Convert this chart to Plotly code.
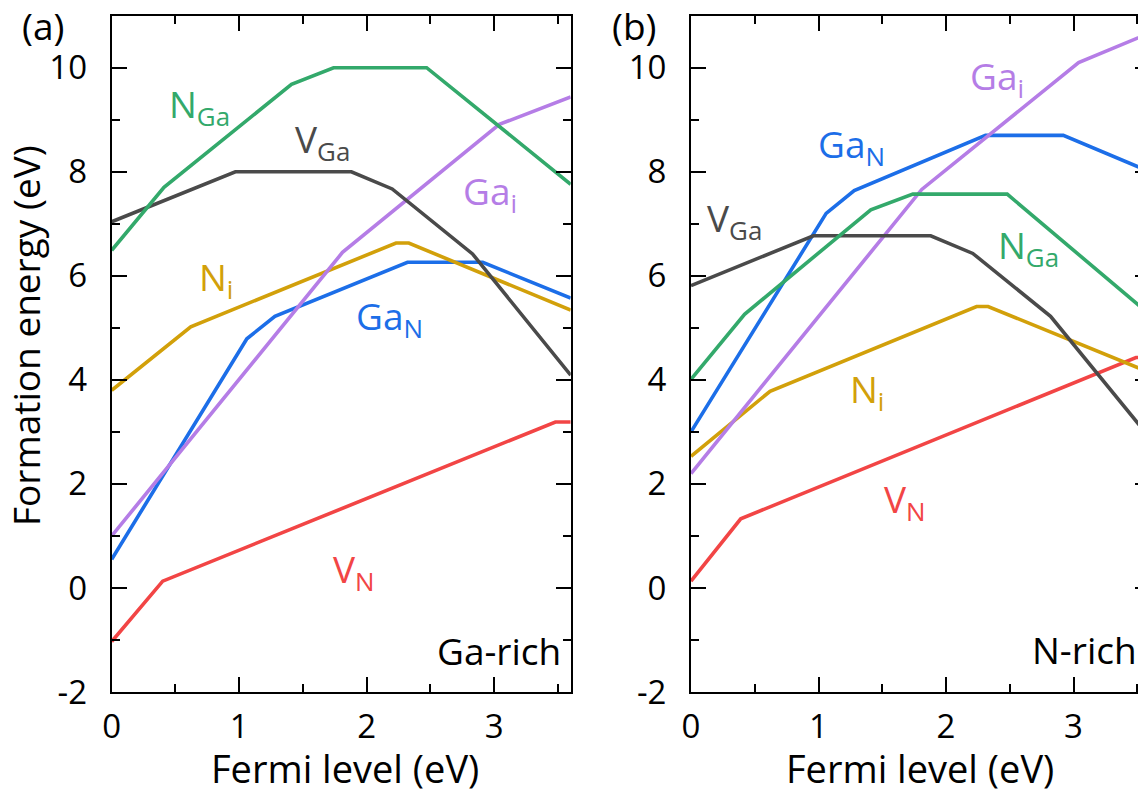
import plotly.graph_objects as go

# ---------------- data ----------------
# Panel (a): Ga-rich
VN_a_x = [0, 0.40, 3.48, 3.6]
VN_a_y = [-1.03, 0.13, 3.19, 3.19]
GaN_a_x = [0, 1.06, 1.28, 2.32, 2.91, 3.6]
GaN_a_y = [0.55, 4.79, 5.22, 6.26, 6.26, 5.57]
Gai_a_x = [0, 1.81, 3.04, 3.6]
Gai_a_y = [1.0, 6.45, 8.91, 9.44]
Ni_a_x = [0, 0.62, 2.23, 2.33, 3.6]
Ni_a_y = [3.80, 5.02, 6.63, 6.63, 5.34]
VGa_a_x = [0, 0.97, 1.88, 2.20, 2.83, 3.6]
VGa_a_y = [7.04, 8.0, 8.0, 7.67, 6.42, 4.09]
NGa_a_x = [0, 0.41, 1.41, 1.74, 2.47, 3.6]
NGa_a_y = [6.49, 7.70, 9.68, 10.0, 10.0, 7.76]

# Panel (b): N-rich
VN_b_x = [0, 0.39, 3.49, 3.6]
VN_b_y = [0.13, 1.33, 4.43, 4.43]
GaN_b_x = [0, 1.06, 1.28, 2.31, 2.92, 3.6]
GaN_b_y = [3.0, 7.2, 7.64, 8.70, 8.70, 8.0]
Gai_b_x = [0, 1.81, 3.04, 3.6]
Gai_b_y = [2.2, 7.66, 10.1, 10.67]
Ni_b_x = [0, 0.62, 2.24, 2.33, 3.6]
Ni_b_y = [2.53, 3.78, 5.41, 5.41, 4.14]
VGa_b_x = [0, 0.96, 1.88, 2.21, 2.82, 3.6]
VGa_b_y = [5.81, 6.77, 6.77, 6.43, 5.22, 2.88]
NGa_b_x = [0, 0.42, 1.41, 1.74, 2.48, 3.6]
NGa_b_y = [4.01, 5.26, 7.27, 7.57, 7.57, 5.25]

x_ticks = [0, 1, 2, 3]
y_ticks = [-2, 0, 2, 4, 6, 8, 10]
y_tick_labels = ["-2", "0", "2", "4", "6", "8", "10"]

# labels: (text, colour, x, y) in data units
labels_a = [
    ("N<sub>Ga</sub>", "#33a96b", 0.69, 9.27),
    ("V<sub>Ga</sub>", "#4a4a4a", 1.65, 8.60),
    ("Ga<sub>i</sub>", "#b57de6", 2.97, 7.60),
    ("N<sub>i</sub>", "#d2a00a", 0.82, 5.94),
    ("Ga<sub>N</sub>", "#1c6ee8", 2.18, 5.19),
    ("V<sub>N</sub>", "#f24545", 1.90, 0.33),
]
labels_b = [
    ("Ga<sub>i</sub>", "#b57de6", 2.40, 9.81),
    ("Ga<sub>N</sub>", "#1c6ee8", 1.26, 8.50),
    ("V<sub>Ga</sub>", "#4a4a4a", 0.345, 7.08),
    ("N<sub>Ga</sub>", "#33a96b", 2.65, 6.56),
    ("N<sub>i</sub>", "#d2a00a", 1.38, 3.79),
    ("V<sub>N</sub>", "#f24545", 1.68, 1.67),
]

COL = {
    "VN": "#f24545", "GaN": "#1c6ee8", "Gai": "#b57de6",
    "Ni": "#d2a00a", "VGa": "#4a4a4a", "NGa": "#33a96b",
}

FONT = "Open Sans"
W, H = 1146, 789
OFF = 8.0   # page body margin: figure is drawn 8px right/down of the window corner

fig = go.Figure()

series_a = [("VN", VN_a_x, VN_a_y), ("GaN", GaN_a_x, GaN_a_y), ("Ni", Ni_a_x, Ni_a_y),
            ("Gai", Gai_a_x, Gai_a_y), ("VGa", VGa_a_x, VGa_a_y), ("NGa", NGa_a_x, NGa_a_y)]
series_b = [("VN", VN_b_x, VN_b_y), ("GaN", GaN_b_x, GaN_b_y), ("Ni", Ni_b_x, Ni_b_y),
            ("Gai", Gai_b_x, Gai_b_y), ("VGa", VGa_b_x, VGa_b_y), ("NGa", NGa_b_x, NGa_b_y)]

for key, xs, ys in series_a:
    fig.add_trace(go.Scatter(x=xs, y=ys, mode="lines", line=dict(color=COL[key], width=3.6),
                             xaxis="x", yaxis="y", showlegend=False, hoverinfo="skip"))
for key, xs, ys in series_b:
    fig.add_trace(go.Scatter(x=xs, y=ys, mode="lines", line=dict(color=COL[key], width=3.6),
                             xaxis="x2", yaxis="y2", showlegend=False, hoverinfo="skip"))

# pixel geometry (window pixels of the reference)
ax_l, ax_r = 111.7, 570.7
px_per_unit = (ax_r - ax_l) / 3.6
bx_l = 691.0
bx_r = bx_l + 3.6 * px_per_unit
y_top, y_bot = 15.7, 692.0


def fx(px):
    return (px - OFF) / W


def fy(py):
    return 1 - (py - OFF) / H


common_x = dict(
    showline=True, linecolor="black", linewidth=2, mirror="ticks",
    ticks="inside", ticklen=15, tickwidth=2, tickcolor="black",
    tickvals=x_ticks, ticktext=[str(v) for v in x_ticks],
    tickfont=dict(family=FONT, size=33, color="black"),
    ticklabelstandoff=4, automargin=False,
    minor=dict(dtick=0.5, ticks="inside", ticklen=8, tickwidth=2, tickcolor="black", showgrid=False),
    showgrid=False, zeroline=False, fixedrange=True, range=[0, 3.6],
)
common_y = dict(
    showline=True, linecolor="black", linewidth=2, mirror="ticks",
    ticks="inside", ticklen=15, tickwidth=2, tickcolor="black",
    tickvals=y_ticks, ticktext=y_tick_labels,
    tickfont=dict(family=FONT, size=33, color="black"),
    ticklabelstandoff=16, automargin=False,
    minor=dict(dtick=1, ticks="inside", ticklen=8, tickwidth=2, tickcolor="black", showgrid=False),
    showgrid=False, zeroline=False, range=[-2, 11], fixedrange=True,
)

ydom = [fy(y_bot), fy(y_top)]
fig.update_layout(
    width=W, height=H, margin=dict(l=0, r=0, t=0, b=0, autoexpand=False),
    paper_bgcolor="white", plot_bgcolor="white",
    xaxis=dict(common_x, domain=[fx(ax_l), fx(ax_r)], anchor="y"),
    yaxis=dict(common_y, domain=ydom, anchor="x"),
    xaxis2=dict(common_x, domain=[fx(bx_l), min(1.0, fx(bx_r))], anchor="y2"),
    yaxis2=dict(common_y, domain=ydom, anchor="x2"),
)

anns = []
for txt, c, x, y in labels_a:
    anns.append(dict(text=txt, x=x, y=y, xref="x", yref="y", showarrow=False,
                     font=dict(family=FONT, size=37, color=c), xanchor="center", yanchor="middle"))
for txt, c, x, y in labels_b:
    anns.append(dict(text=txt, x=x, y=y, xref="x2", yref="y2", showarrow=False,
                     font=dict(family=FONT, size=37, color=c), xanchor="center", yanchor="middle"))
anns.append(dict(text="Ga-rich", x=3.54, y=-1.21, xref="x", yref="y", showarrow=False,
                 font=dict(family=FONT, size=37, color="black"), xanchor="right", yanchor="middle"))
anns.append(dict(text="N-rich", x=3.51, y=-1.19, xref="x2", yref="y2", showarrow=False,
                 font=dict(family=FONT, size=37, color="black"), xanchor="right", yanchor="middle"))
anns.append(dict(text="(a)", x=fx(43), y=fy(26), xref="paper", yref="paper", showarrow=False,
                 font=dict(family=FONT, size=37, color="black"), xanchor="center", yanchor="middle"))
anns.append(dict(text="(b)", x=fx(634), y=fy(26), xref="paper", yref="paper", showarrow=False,
                 font=dict(family=FONT, size=37, color="black"), xanchor="center", yanchor="middle"))
anns.append(dict(text="Formation energy (eV)", x=fx(26), y=fy(336), xref="paper", yref="paper",
                 showarrow=False, textangle=-90,
                 font=dict(family=FONT, size=37, color="black"), xanchor="center", yanchor="middle"))
anns.append(dict(text="Fermi level (eV)", x=fx(345), y=fy(768), xref="paper", yref="paper",
                 showarrow=False, font=dict(family=FONT, size=38, color="black"),
                 xanchor="center", yanchor="middle"))
anns.append(dict(text="Fermi level (eV)", x=fx(920), y=fy(768), xref="paper", yref="paper",
                 showarrow=False, font=dict(family=FONT, size=38, color="black"),
                 xanchor="center", yanchor="middle"))
fig.update_layout(annotations=anns)

fig.write_html("out.html")
